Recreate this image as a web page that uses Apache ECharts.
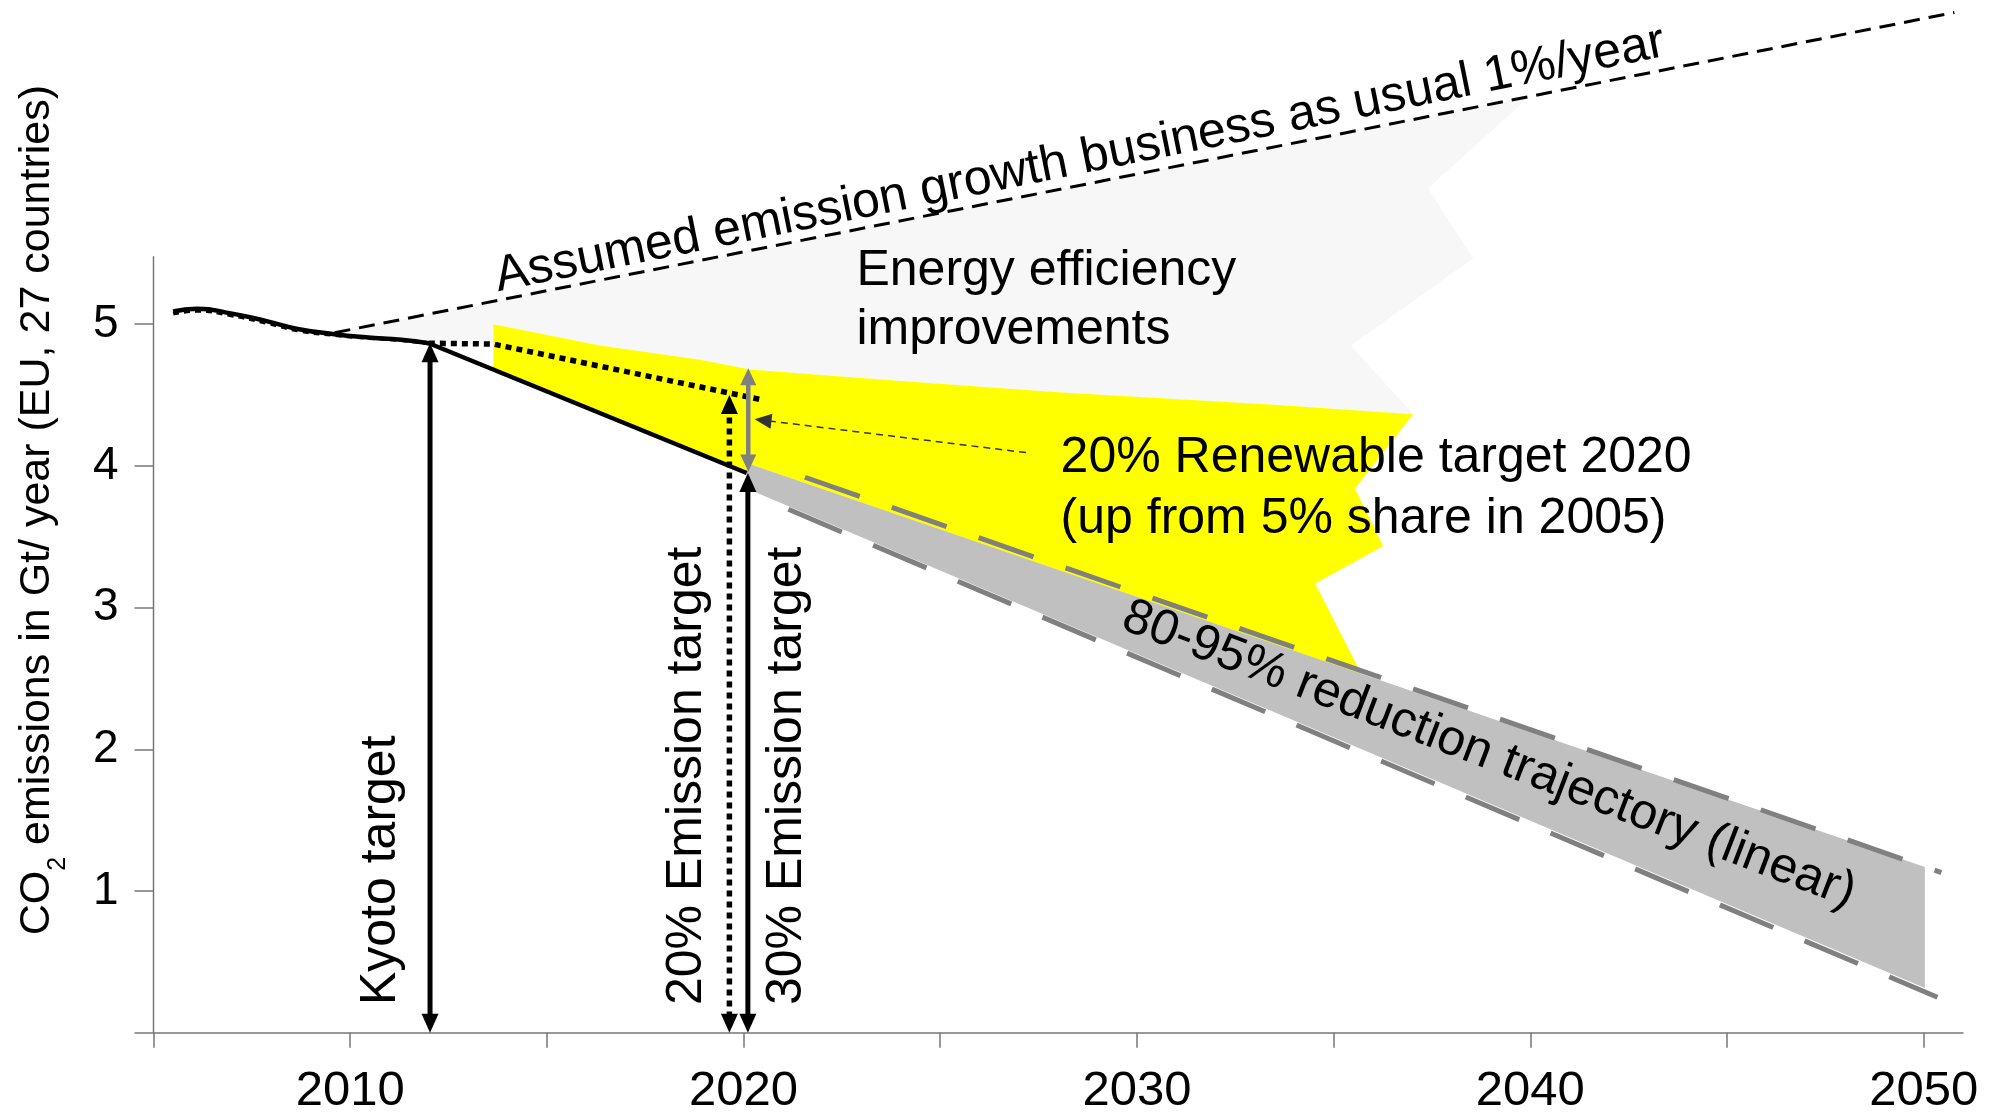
<!DOCTYPE html>
<html>
<head>
<meta charset="utf-8">
<title>EU CO2 emission targets</title>
<script src="https://cdn.jsdelivr.net/npm/echarts@6.0.0/dist/echarts.min.js"></script>
<style>
  html, body { margin: 0; padding: 0; background: #fff; }
  #chart { width: 1999px; height: 1120px; }
</style>
</head>
<body>
<div id="chart"></div>
<script>
var FONT = "'Liberation Sans', Arial, sans-serif";

// axes
var xTicks = [2005, 2010, 2015, 2020, 2025, 2030, 2035, 2040, 2045, 2050];
var xLabels = [2010, 2020, 2030, 2040, 2050];
var yTicks = [0, 1, 2, 3, 4, 5];
var yLabels = [1, 2, 3, 4, 5];
var yAxisTop = 5.48;

// emissions, [year, Gt/year]
var historyLine = [[2005.5, 5.09], [2006.1, 5.11], [2007.0, 5.075], [2007.9, 5.02], [2008.7, 4.965], [2009.6, 4.93], [2010.4, 4.908], [2011.3, 4.89], [2012.0, 4.866]];
var reductionLine = [[2012.0, 4.866], [2020.08, 3.95]];
var historyDotted = [[2005.5, 5.075], [2006.1, 5.095], [2007.0, 5.062], [2007.9, 5.008], [2008.7, 4.955], [2009.6, 4.924], [2010.4, 4.905], [2011.3, 4.888], [2012.0, 4.866]];
var target20Dotted = [[2012.0, 4.866], [2013.64, 4.86], [2020.5, 4.465]];
var bauLine = [[2009.6, 4.94], [2050.78, 7.2]];

// 80-95% trajectory band
var trajBand = [[2020.08, 4.02], [2050.03, 1.17], [2050.03, 0.315], [2020.08, 3.84]];
var trajTop = [[2021.56, 3.92], [2050.45, 1.13]];
var trajBottom = [[2021.14, 3.694], [2050.35, 0.25]];

// renewable (yellow) and efficiency (light grey) areas
var renewableTop = [[2013.64, 5.0], [2016.35, 4.85], [2018.9, 4.75], [2020.16, 4.68], [2024.0, 4.6], [2028.0, 4.52], [2033.6, 4.43], [2037.02, 4.364]];
var renewableRight = [[2035.54, 3.84], [2036.26, 3.435], [2034.53, 3.17], [2035.71, 2.53]];
var renewableBottom = [[2020.08, 4.02], [2020.08, 3.96], [2013.64, 4.69]];
var efficiencyTop = [[2009.6, 4.94], [2040.0, 6.61]];
var efficiencyRight = [[2037.4, 5.96], [2038.55, 5.465], [2035.44, 4.85]];
var efficiencyBottom = [[2013.64, 4.86], [2012.0, 4.866], [2010.4, 4.905]];

// target arrows
var kyotoArrow = [[2012.03, 0], [2012.03, 4.866]];
var target20Arrow = [[2019.64, 0], [2019.64, 4.5]];
var target30Arrow = [[2020.11, 0], [2020.11, 3.95]];
var renewableArrow = [[2020.12, 3.96], [2020.12, 4.69]];
var pointerArrow = [[2027.18, 4.094], [2020.28, 4.33]];

var noteTexts = [
  'Assumed emission growth business as usual 1%/year',
  'Energy efficiency\nimprovements',
  '20% Renewable target 2020\n(up from 5% share in 2005)',
  '80-95% reduction trajectory (linear)',
  'Kyoto target',
  '20% Emission target',
  '30% Emission target'
];

var renewableArea = renewableTop.concat(renewableRight, renewableBottom);
var efficiencyArea = efficiencyTop.concat(efficiencyRight, renewableTop.slice().reverse(), efficiencyBottom);

// filled polygon drawn through the axes
function polygonSeries(points, color, z) {
  return {
    type: 'custom',
    data: points,
    z: z,
    silent: true,
    renderItem: function (params, api) {
      if (params.dataIndex !== 0) return;
      return {
        type: 'polygon',
        shape: { points: points.map(function (p) { return api.coord(p); }) },
        style: { fill: color }
      };
    }
  };
}

// straight arrow with triangle heads, tips exactly on the end points
function arrowSeries(points, o) {
  return {
    type: 'custom',
    data: points,
    z: 8,
    silent: true,
    renderItem: function (params, api) {
      if (params.dataIndex !== 0) return;
      var a = api.coord(points[0]), b = api.coord(points[1]);
      var dx = b[0] - a[0], dy = b[1] - a[1];
      var len = Math.sqrt(dx * dx + dy * dy);
      var ux = dx / len, uy = dy / len;
      var hl = o.headLen, hw = o.headWidth;
      function head(tip, vx, vy) {
        var bx = tip[0] - vx * hl, by = tip[1] - vy * hl;
        return {
          type: 'polygon',
          shape: { points: [tip, [bx - vy * hw / 2, by + vx * hw / 2], [bx + vy * hw / 2, by - vx * hw / 2]] },
          style: { fill: o.color }
        };
      }
      var s = a, e = b, heads = [];
      if (o.start) {
        s = [a[0] + ux * hl * 0.8, a[1] + uy * hl * 0.8];
        heads.push(head(a, -ux, -uy));
      }
      if (o.end) {
        e = [b[0] - ux * hl * 0.8, b[1] - uy * hl * 0.8];
        heads.push(head(b, ux, uy));
      }
      var line = {
        type: 'line',
        shape: { x1: s[0], y1: s[1], x2: e[0], y2: e[1] },
        style: { stroke: o.color, lineWidth: o.width, lineDash: o.dash || null, lineCap: 'butt' }
      };
      return { type: 'group', children: [line].concat(heads) };
    }
  };
}

function lineSeries(data, color, width, dash, smooth, z) {
  return {
    type: 'line',
    data: data,
    z: z,
    silent: true,
    clip: false,
    symbol: 'none',
    smooth: smooth,
    lineStyle: { color: color, width: width, type: dash || 'solid', cap: 'butt' }
  };
}

var chart = echarts.init(document.getElementById('chart'));

var option = {
  animation: false,
  backgroundColor: '#fff',
  grid: { left: 153.5, right: 36, top: 12.5, bottom: 87.3 },
  xAxis: {
    type: 'value',
    min: 2005,
    max: 2051,
    interval: 5,
    splitLine: { show: false },
    axisLine: { show: true, lineStyle: { color: '#777', width: 1.5 } },
    axisTick: { show: true, customValues: xTicks, length: 15, lineStyle: { color: '#777', width: 1.5 } },
    axisLabel: {
      customValues: xLabels,
      formatter: function (v) { return String(v); },
      margin: 34,
      color: '#000',
      fontSize: 49,
      fontFamily: FONT
    }
  },
  yAxis: {
    type: 'value',
    min: 0,
    max: 7.2,
    interval: 1,
    splitLine: { show: false },
    axisLine: { show: false },
    axisTick: { show: true, customValues: yTicks, length: 19, lineStyle: { color: '#777', width: 1.5 } },
    axisLabel: {
      customValues: yLabels,
      margin: 35,
      color: '#000',
      fontSize: 46,
      fontFamily: FONT
    },
    name: '{a|CO}{sub|2}{a| emissions in Gt/ year (EU, 27 countries)}',
    nameLocation: 'middle',
    nameGap: 83,
    nameTextStyle: {
      color: '#000',
      fontFamily: FONT,
      padding: [0, 0, 0, 25],
      rich: {
        a: { fontSize: 43, fontFamily: FONT, color: '#000', lineHeight: 50 },
        sub: { fontSize: 25, fontFamily: FONT, color: '#000', padding: [42, 0, 0, 0] }
      }
    }
  },
  series: [
    // areas
    polygonSeries(efficiencyArea, '#f7f7f7', 1),
    polygonSeries(renewableArea, '#ffff00', 2),
    polygonSeries(trajBand, '#c0c0c0', 3),
    // y axis line
    lineSeries([[2005, 0], [2005, yAxisTop]], '#777', 1.5, null, false, 4),
    // lines
    lineSeries(bauLine, '#000', 3, [16, 9], false, 5),
    lineSeries(trajTop, '#808080', 5, [58, 34], false, 5),
    lineSeries(trajBottom, '#808080', 5, [58, 34], false, 5),
    lineSeries(historyLine, '#000', 4.5, null, true, 6),
    lineSeries(reductionLine, '#000', 4.5, null, false, 6),
    lineSeries(historyDotted, '#000', 4, [6, 5], true, 6),
    lineSeries(target20Dotted, '#000', 5.5, [6, 5], false, 6),
    // arrows
    arrowSeries(kyotoArrow, { color: '#000', width: 5, headLen: 19, headWidth: 17, start: true, end: true }),
    arrowSeries(target20Arrow, { color: '#000', width: 5.5, dash: [6, 5], headLen: 19, headWidth: 17, start: true, end: true }),
    arrowSeries(target30Arrow, { color: '#000', width: 5, headLen: 19, headWidth: 17, start: true, end: true }),
    arrowSeries(renewableArrow, { color: '#808080', width: 4.5, headLen: 17, headWidth: 16, start: true, end: true }),
    arrowSeries(pointerArrow, { color: '#333', width: 1.5, dash: [7, 5], headLen: 17, headWidth: 15, start: false, end: true }),
    // annotations
    {
      type: 'scatter',
      symbolSize: 1,
      silent: true,
      z: 10,
      itemStyle: { color: 'rgba(0,0,0,0)', opacity: 1 },
      label: {
        show: true,
        position: 'inside',
        color: '#000',
        opacity: 1,
        fontSize: 50,
        fontFamily: FONT,
        formatter: function (p) { return p.name; }
      },
      labelLayout: { hideOverlap: false },
      data: [
        { name: noteTexts[0], value: [2028.55, 6.16], label: { rotate: 11.4 } },
        { name: noteTexts[1], value: [2022.87, 5.165], label: { align: 'left', lineHeight: 59 } },
        { name: noteTexts[2], value: [2028.06, 3.84], label: { align: 'left', lineHeight: 61 } },
        { name: noteTexts[3], value: [2038.95, 1.96], label: { rotate: -21 } },
        { name: noteTexts[4], value: [2010.78, 0.195], label: { rotate: 90, align: 'left' } },
        { name: noteTexts[5], value: [2018.57, 0.195], label: { rotate: 90, align: 'left' } },
        { name: noteTexts[6], value: [2021.12, 0.195], label: { rotate: 90, align: 'left' } }
      ]
    }
  ]
};

chart.setOption(option);
window.addEventListener('resize', function () {
  chart.resize();
});
</script>
</body>
</html>
